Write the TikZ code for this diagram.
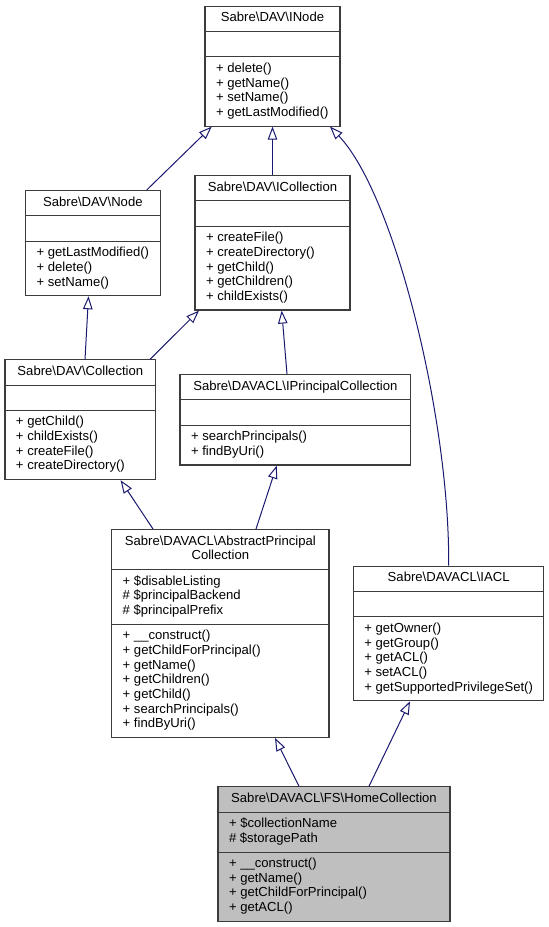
\documentclass[tikz,border=0pt]{standalone}
\usepackage{fontspec}
\setmainfont{Liberation Sans}
\usepackage{xcolor}
\definecolor{edgec}{RGB}{25,25,112}
\definecolor{boxline}{RGB}{60,60,60}
\definecolor{boxhi}{RGB}{191,191,191}
\usepackage{tikz}
\usetikzlibrary{arrows.meta,shapes.multipart}
\tikzstyle{classbox} = [rectangle split, rectangle split parts=3, rectangle split part align={center,left,left}, align=left, anchor=north, draw=boxline, line width=1.1pt, fill=white, inner xsep=11pt, inner ysep=4.75pt, font=\fontsize{13.1}{14.67}\selectfont]
\tikzstyle{classboxH} = [classbox, fill=boxhi]
\tikzstyle{inherit} = [-{Triangle[open,length=13pt,width=9.5pt]}, line width=1pt, draw=edgec]

\begin{document}
\begin{tikzpicture}[x=1pt, y=-1pt]
    \useasboundingbox (0,0) rectangle (549,927);

    \node[classbox, minimum width=135pt] (inode) at (272.5,5.7) {Sabre\textbackslash DAV\textbackslash INode\strut
      \nodepart{two}\strut
      \nodepart{three}+ delete()\strut\\+ getName()\strut\\+ setName()\strut\\+ getLastModified()\strut};
    \node[classbox, minimum width=134.3pt] (node) at (92.85,190) {Sabre\textbackslash DAV\textbackslash Node\strut
      \nodepart{two}\strut
      \nodepart{three}+ getLastModified()\strut\\+ delete()\strut\\+ setName()\strut};
    \node[classbox, minimum width=155pt] (icoll) at (272.5,175) {Sabre\textbackslash DAV\textbackslash ICollection\strut
      \nodepart{two}\strut
      \nodepart{three}+ createFile()\strut\\+ createDirectory()\strut\\+ getChild()\strut\\+ getChildren()\strut\\+ childExists()\strut};
    \node[classbox, minimum width=150.7pt] (coll) at (80.35,359.3) {Sabre\textbackslash DAV\textbackslash Collection\strut
      \nodepart{two}\strut
      \nodepart{three}+ getChild()\strut\\+ childExists()\strut\\+ createFile()\strut\\+ createDirectory()\strut};
    \node[classbox, minimum width=230.7pt] (ipc) at (295.35,374) {Sabre\textbackslash DAVACL\textbackslash IPrincipalCollection\strut
      \nodepart{two}\strut
      \nodepart{three}+ searchPrincipals()\strut\\+ findByUri()\strut};
    \node[classbox, minimum width=217.3pt] (apc) at (220.35,529) {\begin{tabular}{@{}c@{}}Sabre\textbackslash DAVACL\textbackslash AbstractPrincipal\\Collection\end{tabular}
      \nodepart{two}+ \$disableListing\strut\\\# \$principalBackend\strut\\\# \$principalPrefix\strut
      \nodepart{three}+ \_\_construct()\strut\\+ getChildForPrincipal()\strut\\+ getName()\strut\\+ getChildren()\strut\\+ getChild()\strut\\+ searchPrincipals()\strut\\+ findByUri()\strut};
    \node[classbox, minimum width=189.3pt] (iacl) at (448.65,565.7) {Sabre\textbackslash DAVACL\textbackslash IACL\strut
      \nodepart{two}\strut
      \nodepart{three}+ getOwner()\strut\\+ getGroup()\strut\\+ getACL()\strut\\+ setACL()\strut\\+ getSupportedPrivilegeSet()\strut};
    \node[classboxH, minimum width=232pt] (homecoll) at (334,786.3) {Sabre\textbackslash DAVACL\textbackslash FS\textbackslash HomeCollection\strut
      \nodepart{two}+ \$collectionName\strut\\\# \$storagePath\strut
      \nodepart{three}+ \_\_construct()\strut\\+ getName()\strut\\+ getChildForPrincipal()\strut\\+ getACL()\strut};

    \draw[inherit] ([xshift=53.85pt]node.north) -- ([xshift=-60.8pt]inode.south);
    \draw[inherit] (icoll.north) -- (inode.south);
    \draw[inherit] (iacl.north) .. controls (450,420) and (395,195) .. ([xshift=57.5pt]inode.south);
    \draw[inherit] ([xshift=4.65pt]coll.north) -- ([xshift=-4.35pt]node.south);
    \draw[inherit] ([xshift=69.65pt]coll.north) -- ([xshift=-73.5pt]icoll.south);
    \draw[inherit] ([xshift=-8.35pt]ipc.north) -- ([xshift=9.2pt]icoll.south);
    \draw[inherit] ([xshift=-67.35pt]apc.north) -- ([xshift=40.25pt]coll.south);
    \draw[inherit] ([xshift=35.65pt]apc.north) -- ([xshift=-18.65pt]ipc.south);
    \draw[inherit] ([xshift=-35pt]homecoll.north) -- ([xshift=54.65pt]apc.south);
    \draw[inherit] ([xshift=35pt]homecoll.north) -- ([xshift=-38.65pt]iacl.south);
\end{tikzpicture}
\end{document}
